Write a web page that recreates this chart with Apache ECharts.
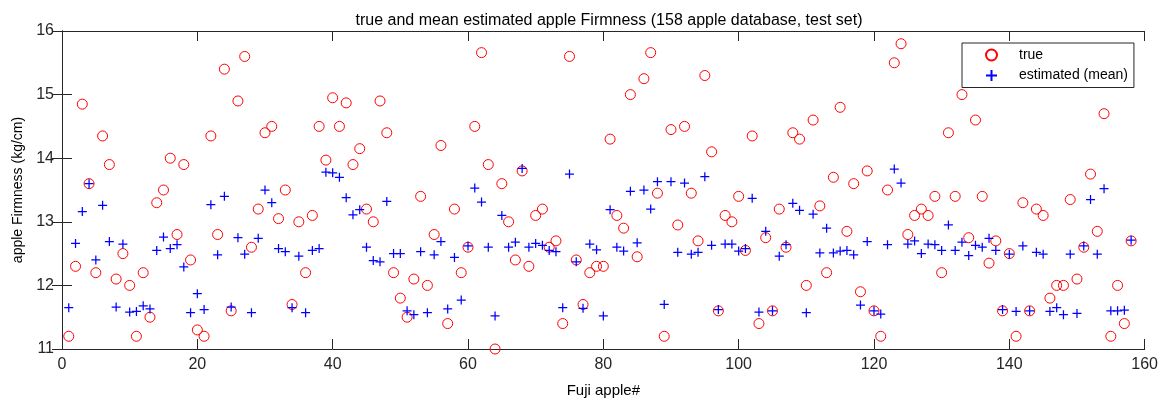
<!DOCTYPE html>
<html><head><meta charset="utf-8">
<script src="https://cdn.jsdelivr.net/npm/echarts@6/dist/echarts.min.js"></script>
<style>html,body{margin:0;padding:0;background:#fff;overflow:hidden}#c{width:1161px;height:403px}</style>
</head><body><div id="c"></div>
<script>
const trueVals = [11.2,12.3,14.85,13.6,12.2,14.35,13.9,12.1,12.5,12.0,
11.2,12.2,11.5,13.3,13.5,14.0,12.8,13.9,12.4,11.3,
11.2,14.35,12.8,15.4,11.6,14.9,15.6,12.6,13.2,14.4,
14.5,13.05,13.5,11.7,13.0,12.2,13.1,14.5,13.97,14.95,
14.5,14.87,13.9,14.15,13.2,13.0,14.9,14.4,12.2,11.8,
11.5,12.1,13.4,12.0,12.8,14.2,11.4,13.2,12.2,12.6,
14.5,15.66,13.9,11.0,13.6,13.0,12.4,13.8,12.3,13.1,
13.2,12.6,12.7,11.4,15.6,12.4,11.7,12.2,12.3,12.3,
14.3,13.1,12.9,15.0,12.45,15.25,15.66,13.45,11.2,14.45,
12.95,14.5,13.45,12.7,15.3,14.1,11.6,13.1,13.0,13.4,
12.55,14.35,11.4,12.75,11.6,13.2,12.6,14.4,14.3,12.0,
14.6,13.25,12.2,13.7,14.8,12.85,13.6,11.9,13.8,11.6,
11.2,13.5,15.5,15.8,12.8,13.1,13.2,13.1,13.4,12.2,
14.4,13.4,15.0,12.75,14.6,13.4,12.35,12.7,11.6,12.5,
11.2,13.3,11.6,13.2,13.1,11.8,12.0,12.0,13.35,12.1,
12.6,13.75,12.85,14.7,11.2,12.0,11.4,12.7];
const estVals = [11.65,12.66,13.16,13.6,12.4,13.26,12.69,11.66,12.65,11.58,
11.59,11.68,11.63,12.55,12.76,12.58,12.64,12.29,11.57,11.87,
11.62,13.27,12.48,13.4,11.66,12.75,12.49,11.57,12.74,13.5,
13.3,12.58,12.53,11.65,12.46,11.57,12.55,12.58,13.78,13.77,
13.7,13.38,13.11,13.19,12.6,12.39,12.37,13.32,12.5,12.5,
11.6,11.54,12.53,11.57,12.48,12.69,11.63,12.44,11.77,12.62,
13.53,13.31,12.6,11.52,13.1,12.6,12.68,13.84,12.6,12.66,
12.63,12.55,12.53,11.65,13.75,12.37,11.64,12.65,12.56,11.52,
13.19,12.6,12.54,13.48,12.67,13.5,13.2,13.63,11.7,13.63,
12.52,13.61,12.49,12.52,13.71,12.63,11.62,12.65,12.65,12.54,
12.58,13.37,11.58,12.85,11.6,12.46,12.64,13.29,13.18,11.57,
13.12,12.51,12.9,12.51,12.54,12.55,12.48,11.69,12.69,11.6,
11.55,12.64,13.83,13.61,12.65,12.7,12.5,12.65,12.64,12.55,
12.95,12.55,12.68,12.47,12.63,12.6,12.74,12.55,11.62,12.49,
11.59,12.62,11.6,12.52,12.49,11.59,11.65,11.54,12.49,11.56,
12.62,13.35,12.49,13.52,11.6,11.6,11.61,12.71];
const seriesNames = ['true','estimated (mean)'];
const xTicks = [0,20,40,60,80,100,120,140,160];
const yTicks = [11,12,13,14,15,16];
const titleText = 'true and mean estimated apple Firmness (158 apple database, test set)';
const xLabel = 'Fuji apple#';
const yLabel = 'apple Firmness (kg/cm)';

const toPairs = arr => arr.map((v,i)=>[i+1,v]);
const plus = 'path://M0,5L10,5M5,0L5,10';
const font = 'Liberation Sans, Arial, sans-serif';
const axCol = '#262626';

const chart = echarts.init(document.getElementById('c'), null, {width:1161, height:403, renderer:'canvas'});
const baseX = {type:'value',min:xTicks[0],max:xTicks[xTicks.length-1],interval:20,
  axisLine:{show:true,lineStyle:{color:axCol,width:1}},
  axisTick:{show:true,inside:true,length:10,lineStyle:{color:axCol}},
  splitLine:{show:false}};
const baseY = {type:'value',min:yTicks[0],max:yTicks[yTicks.length-1],interval:1,
  axisLine:{show:true,lineStyle:{color:axCol,width:1}},
  axisTick:{show:true,inside:true,length:10,lineStyle:{color:axCol}},
  splitLine:{show:false}};
chart.setOption({
  animation:false,
  backgroundColor:'#fff',
  title:{text:titleText,left:604,top:8,textAlign:'center',
    textStyle:{fontFamily:font,fontSize:16,fontWeight:'normal',color:'#000'}},
  grid:{left:62,right:14,top:31,bottom:47,containLabel:false},
  legend:{data:seriesNames,orient:'vertical',left:962,top:43,
    padding:[4,6,4,23],itemGap:4.5,itemWidth:11,itemHeight:11,
    borderColor:axCol,borderWidth:1,backgroundColor:'#fff',
    textStyle:{fontFamily:font,fontSize:14,lineHeight:16,color:'#000',padding:[0,0,0,17]}},
  xAxis:[Object.assign({},baseX,{position:'bottom',name:xLabel,nameLocation:'middle',nameGap:34,
      nameTextStyle:{fontFamily:font,fontSize:15,color:'#000'},
      axisLabel:{show:true,fontFamily:font,fontSize:16,color:axCol,margin:8}}),
    Object.assign({},baseX,{position:'top',axisLabel:{show:false}})],
  yAxis:[Object.assign({},baseY,{position:'left',name:yLabel,nameLocation:'middle',nameGap:37,
      nameTextStyle:{fontFamily:font,fontSize:14,color:'#000'},
      axisLabel:{show:true,fontFamily:font,fontSize:16,color:axCol,margin:8}}),
    Object.assign({},baseY,{position:'right',axisLabel:{show:false}})],
  series:[
    {name:seriesNames[0],type:'scatter',data:toPairs(trueVals),symbol:'circle',symbolSize:10,clip:false,
      itemStyle:{color:'rgba(255,255,255,0)',borderColor:'#ff0000',borderWidth:1,opacity:1},z:2},
    {name:seriesNames[1],type:'scatter',data:toPairs(estVals),symbol:plus,symbolSize:9,clip:false,
      itemStyle:{color:'#0000ff',borderColor:'#0000ff',borderWidth:1.25,opacity:1},z:3}
  ]
});
</script></body></html>
